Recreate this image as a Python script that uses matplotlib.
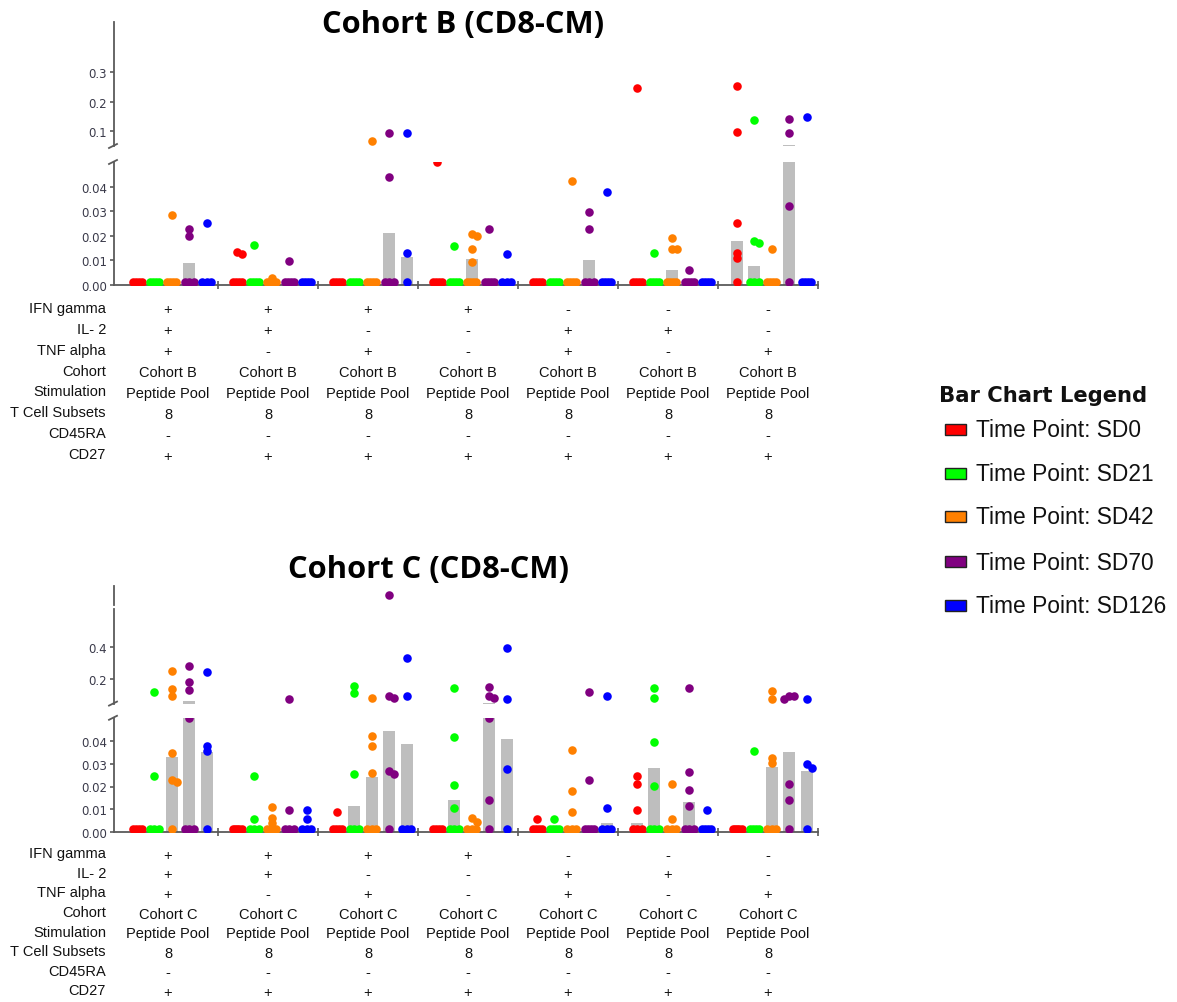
import numpy as np
import matplotlib
matplotlib.use("Agg")
import matplotlib.pyplot as plt
from matplotlib.transforms import blended_transform_factory
from matplotlib.patches import Rectangle
from matplotlib.lines import Line2D

W, H = 1177, 1003
fig = plt.figure(figsize=(W / 100, H / 100), dpi=100)

# ---------------- data ----------------
time_points = ["SD0", "SD21", "SD42", "SD70", "SD126"]
tp_colors = ["#FF0000", "#00FF00", "#FF8000", "#800080", "#0000FF"]

row_labels = ["IFN gamma", "IL- 2", "TNF alpha", "Cohort", "Stimulation",
              "T Cell Subsets", "CD45RA", "CD27"]
ifn_gamma = ["+", "+", "+", "+", "-", "-", "-"]
il_2 = ["+", "+", "-", "-", "+", "+", "-"]
tnf_alpha = ["+", "-", "+", "-", "+", "-", "+"]
stimulation = ["Peptide Pool"] * 7
t_cell_subsets = ["8"] * 7
cd45ra = ["-"] * 7
cd27 = ["+"] * 7

# points per group -> per time point (SD0, SD21, SD42, SD70, SD126)
cohortB_points = [
    [[0, 0, 0, 0], [0, 0, 0, 0], [0.0285, 0, 0, 0, 0], [0.0227, 0.0198, 0, 0, 0], [0.0253, 0, 0, 0]],
    [[0.0134, 0.0124, 0, 0, 0, 0], [0.0162, 0, 0, 0, 0], [0.0026, 0, 0, 0, 0], [0.0098, 0, 0, 0, 0], [0, 0, 0, 0]],
    [[0, 0, 0, 0], [0, 0, 0, 0], [0.0664, 0, 0, 0, 0], [0.0933, 0.044, 0, 0, 0], [0.0933, 0.0129, 0]],
    [[0.0500, 0, 0, 0, 0], [0.0158, 0, 0, 0, 0], [0.0205, 0.0197, 0.0147, 0.0093, 0, 0, 0, 0], [0.0227, 0, 0, 0, 0], [0.0125, 0, 0, 0]],
    [[0, 0, 0, 0], [0, 0, 0, 0], [0.0424, 0, 0, 0, 0], [0.0297, 0.0227, 0, 0, 0], [0.0377, 0, 0, 0, 0]],
    [[0.244, 0, 0, 0, 0], [0.0129, 0, 0, 0, 0], [0.0189, 0.0145, 0.0145, 0, 0, 0, 0], [0.006, 0, 0, 0, 0], [0, 0, 0, 0]],
    [[0.251, 0.0977, 0.0253, 0.0129, 0.0109, 0], [0.137, 0.0177, 0.0171, 0, 0, 0], [0.0147, 0, 0, 0, 0], [0.142, 0.0933, 0.0322, 0], [0.147, 0, 0, 0, 0]],
]
cohortB_bars = [
    [0, 0, 0, 0.0087, 0],
    [0, 0, 0, 0, 0],
    [0, 0, 0, 0.0209, 0.0114],
    [0, 0, 0.0105, 0, 0],
    [0, 0, 0, 0.0102, 0],
    [0, 0, 0.006, 0, 0],
    [0.0179, 0.0077, 0, 0.055, 0],
]

cohortC_points = [
    [[0, 0, 0, 0], [0.12, 0.0245, 0, 0, 0], [0.25, 0.137, 0.095, 0.0346, 0.023, 0.0218, 0], [0.28, 0.181, 0.133, 0.05, 0, 0, 0], [0.242, 0.0378, 0.0356, 0]],
    [[0, 0, 0, 0, 0], [0.0245, 0.0058, 0, 0, 0], [0.0109, 0.0062, 0.0041, 0, 0, 0], [0.074, 0.0099, 0, 0, 0], [0.0099, 0.0057, 0, 0, 0]],
    [[0.0087, 0, 0, 0, 0], [0.158, 0.11, 0.0255, 0, 0, 0], [0.08, 0.042, 0.0377, 0.026, 0, 0, 0], [0.73, 0.095, 0.08, 0.0266, 0.0255, 0], [0.332, 0.095, 0, 0, 0]],
    [[0, 0, 0, 0], [0.141, 0.0415, 0.0207, 0.0105, 0, 0, 0], [0.0062, 0.0044, 0, 0, 0], [0.151, 0.095, 0.08, 0.05, 0.0142, 0], [0.397, 0.074, 0.0277, 0]],
    [[0.0058, 0, 0, 0, 0], [0.0058, 0, 0, 0, 0], [0.0361, 0.018, 0.009, 0, 0, 0], [0.12, 0.0228, 0, 0, 0, 0], [0.095, 0.0105, 0, 0, 0]],
    [[0.0245, 0.0211, 0.0099, 0, 0, 0], [0.141, 0.08, 0.0394, 0.0202, 0, 0, 0], [0.0211, 0.0058, 0, 0, 0], [0.141, 0.0265, 0.0185, 0.0115, 0, 0, 0], [0.0099, 0, 0, 0, 0]],
    [[0, 0, 0, 0, 0], [0.0356, 0, 0, 0, 0], [0.126, 0.074, 0.0324, 0.0303, 0, 0, 0], [0.095, 0.092, 0.074, 0.0211, 0.0142, 0], [0.074, 0.0298, 0.0281, 0]],
]
cohortC_bars = [
    [0, 0, 0.0327, 0.063, 0.035],
    [0, 0, 0, 0, 0],
    [0, 0.0114, 0.0243, 0.0444, 0.0386],
    [0, 0.0142, 0, 0.05, 0.0407],
    [0, 0, 0, 0, 0.004],
    [0.0039, 0.0281, 0, 0.0131, 0],
    [0, 0, 0.0284, 0.035, 0.0269],
]

# ---------------- style ----------------
SPINE = "#5a5a5a"
BAR_COLOR = "#BEBEBE"
SLOT0, SLOT_STEP, BAR_W = 0.19, 0.174, 0.12
ZERO_FLOOR = 0.0013
DOT_S = 38
TABLE_FONT = "Liberation Sans"
L_PX, R_PX = 114, 818
XLIM = (-0.04, 7.0)


def px_axes(top, bottom):
    return fig.add_axes([L_PX / W, 1 - bottom / H, (R_PX - L_PX) / W, (bottom - top) / H])


def style_axis(ax, lim, ticks, labels, bottom=False):
    ax.set_xlim(*XLIM)
    ax.set_ylim(*lim)
    ax.set_facecolor("none")
    for s in ["top", "right"]:
        ax.spines[s].set_visible(False)
    ax.spines["left"].set_color(SPINE)
    ax.spines["left"].set_linewidth(1.3)
    ax.set_yticks(ticks)
    ax.set_yticklabels(labels, family="DejaVu Sans", fontsize=8.5, color="#3a3a4a")
    ax.tick_params(axis="y", direction="out", length=3, width=1.2, color=SPINE, pad=2)
    if bottom:
        ax.spines["bottom"].set_color(SPINE)
        ax.spines["bottom"].set_linewidth(1.3)
        ax.set_xticks(np.arange(1, 8))
        ax.set_xticklabels([])
        ax.tick_params(axis="x", direction="inout", length=6, width=1.2, color=SPINE)
    else:
        ax.spines["bottom"].set_visible(False)
        ax.set_xticks([])


def break_mark(xp, yp):
    fig.add_artist(Line2D([(xp - 5) / W, (xp + 3) / W], [1 - (yp + 2) / H, 1 - (yp - 2) / H],
                          color=SPINE, lw=1.3, transform=fig.transFigure))


def draw_cohort(ax_lo, ax_hi, points, bars, lo_top):
    for g in range(7):
        for k in range(5):
            xc = g + SLOT0 + SLOT_STEP * k
            h = bars[g][k]
            if h > 0:
                for ax in (ax_lo, ax_hi):
                    ax.bar(xc, h, width=BAR_W, color=BAR_COLOR, linewidth=0, zorder=1)
            vals = points[g][k]
            n0 = sum(1 for v in vals if v == 0)
            nz = sorted([v for v in vals if v > 0], reverse=True)
            if n0:
                offs = np.linspace(-0.045, 0.045, n0) if n0 > 1 else np.zeros(1)
                ax_lo.scatter(xc + offs, np.full(n0, ZERO_FLOOR), s=DOT_S, color=tp_colors[k],
                              linewidths=0, zorder=3)
            placed = []
            for v in nz:
                ax = ax_lo if v <= lo_top else ax_hi
                for off in [0, 0.05, -0.05, 0.1, -0.1]:
                    px, py = ax.transData.transform((xc + off, v))
                    if all(np.hypot(px - qx, py - qy) >= 4.5 for qx, qy in placed):
                        break
                placed.append((px, py))
                ax.scatter([xc + off], [v], s=DOT_S, color=tp_colors[k], linewidths=0, zorder=3)


def draw_table(ax, cohort_name, base_y, step):
    tr = blended_transform_factory(ax.transData, fig.transFigure)
    cols = [ifn_gamma, il_2, tnf_alpha, [cohort_name] * 7, stimulation, t_cell_subsets, cd45ra, cd27]
    for i, lab in enumerate(row_labels):
        yb = base_y + step * i
        fig.text(106 / W, 1 - yb / H, lab, ha="right", va="baseline", family=TABLE_FONT,
                 fontsize=10.5, color="#111111")
        for g in range(7):
            ax.text(g + 0.5, 1 - (yb + 1.5) / H, cols[i][g], ha="center", va="baseline",
                    transform=tr, family=TABLE_FONT, fontsize=10.5, color="#111111")


# ---------------- Cohort B ----------------
B_lo = px_axes(163, 285.7)
B_hi = px_axes(23, 147)
style_axis(B_lo, (0, 0.05), [0, 0.01, 0.02, 0.03, 0.04], ["0.00", "0.01", "0.02", "0.03", "0.04"], bottom=True)
style_axis(B_hi, (0.0507, 0.467), [0.1, 0.2, 0.3], ["0.1", "0.2", "0.3"])
draw_cohort(B_lo, B_hi, cohortB_points, cohortB_bars, 0.05)
break_mark(L_PX, 163)
break_mark(L_PX, 147)
fig.text(463 / W, 1 - 33.5 / H, "Cohort B (CD8-CM)", ha="center", va="baseline",
         family="Open Sans", fontweight="bold", fontsize=22.2)
draw_table(B_lo, "Cohort B", 312.7, 20.95)

# ---------------- Cohort C ----------------
C_lo = px_axes(718.8, 833.3)
C_hi = px_axes(587, 704.6)
style_axis(C_lo, (0, 0.05), [0, 0.01, 0.02, 0.03, 0.04], ["0.00", "0.01", "0.02", "0.03", "0.04"], bottom=True)
style_axis(C_hi, (0.045, 0.787), [0.2, 0.4], ["0.2", "0.4"])
C_hi.spines["left"].set_bounds(0.045, 0.642)
C_hi.add_line(Line2D([0, 0], [0.667, 0.787], color=SPINE, lw=1.3, clip_on=False,
                     transform=blended_transform_factory(C_hi.transAxes, C_hi.transData)))
draw_cohort(C_lo, C_hi, cohortC_points, cohortC_bars, 0.05)
break_mark(L_PX, 718.8)
break_mark(L_PX, 704.6)
fig.text(428 / W, 1 - 578 / H, "Cohort C (CD8-CM)", ha="center", va="baseline",
         family="Open Sans", fontweight="bold", fontsize=22.2)
draw_table(C_lo, "Cohort C", 858.3, 19.6)

# ---------------- Legend ----------------
fig.text(939 / W, 1 - 401.5 / H, "Bar Chart Legend", ha="left", va="baseline",
         family="DejaVu Sans", fontweight="bold", fontsize=15.2, color="#111111")
legend_y = [430, 474, 517, 562, 606]
for tp, col, yc in zip(time_points, tp_colors, legend_y):
    fig.add_artist(Rectangle((945 / W, 1 - (yc + 5.5) / H), 21 / W, 11 / H, facecolor=col,
                             edgecolor="#222222", lw=1.0, transform=fig.transFigure))
    fig.text(976 / W, 1 - (yc + 7.5) / H, f"Time Point: {tp}", ha="left", va="baseline",
             family="Liberation Sans", fontsize=16.4, color="#111111")

fig.savefig("out.png", dpi=100)
